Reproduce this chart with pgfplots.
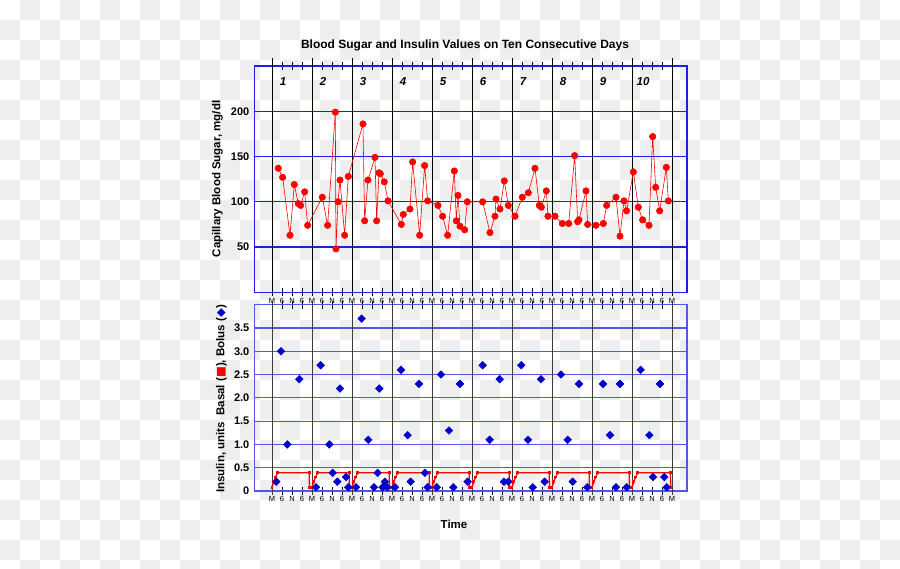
\documentclass[border=0pt]{standalone}
\usepackage{pgfplots}
\pgfplotsset{compat=1.18}
\usepackage{fontspec}
\setmainfont{Liberation Sans}
\newfontfamily\dejavu{DejaVu Sans}
\definecolor{checkgray}{RGB}{238,238,238}
\definecolor{gridblue}{RGB}{30,30,232}
\definecolor{gridblue2}{RGB}{85,85,235}
\definecolor{bolusblue}{RGB}{0,0,205}
\definecolor{sugarred}{RGB}{255,0,0}
\definecolor{daygray}{RGB}{60,60,60}

\pgfplotstableread{
h v
3.8 137
6.4 127
10.8 63
13.4 119
15.8 98
17.2 96
19.6 111
21.4 74
30.2 105
33.4 74
38.0 199
38.4 48
39.6 100
40.8 124
43.6 63
45.8 128
54.6 186
55.6 79
57.6 124
61.8 149
62.8 79
64.2 132
65.0 131
67.4 122
69.6 101
77.6 75
78.8 86
82.8 92
84.4 144
88.6 63
91.6 140
93.4 101
99.6 96
102.4 84
105.4 63
109.4 134
110.6 79
111.6 107
112.8 73
115.6 69
117.2 100
126.4 100
130.8 66
133.8 84
134.4 103
136.8 92
139.4 123
141.8 96
145.8 84
150.2 105
153.8 110
157.8 137
160.4 96
161.6 94
164.6 112
165.6 84
169.8 84
174.2 76
178.0 76
181.6 151
183.4 78
184.2 80
188.4 112
189.4 75
194.4 74
198.8 76
200.8 96
206.4 105
208.8 62
211.2 101
212.8 90
216.8 133
219.8 94
222.4 80
226.2 74
228.4 172
230.2 116
232.6 90
236.6 138
237.8 101
}\sugar

\pgfplotstableread{
h v
2.6 0.2
5.4 3.0
9.2 1.0
16.4 2.4
26.4 0.08
29.2 2.7
34.4 1.0
36.4 0.39
39.2 0.2
40.8 2.2
44.4 0.3
45.8 0.08
50.4 0.08
53.8 3.7
57.8 1.1
61.2 0.08
63.4 0.39
64.4 2.2
66.4 0.08
67.8 0.2
69.2 0.08
73.8 0.08
77.4 2.6
81.4 1.2
83.2 0.2
88.2 2.3
91.8 0.39
93.4 0.08
98.8 0.08
101.4 2.5
106.2 1.3
108.8 0.08
112.8 2.3
117.4 0.2
126.4 2.7
130.6 1.1
136.6 2.4
139.2 0.2
141.8 0.2
149.6 2.7
153.6 1.1
156.4 0.08
161.4 2.4
163.6 0.2
173.4 2.5
177.4 1.1
180.4 0.2
184.2 2.3
189.2 0.08
198.6 2.3
202.8 1.2
206.4 0.08
208.8 2.3
212.8 0.08
221.2 2.6
226.4 1.2
228.6 0.3
232.8 2.3
235.4 0.3
236.8 0.08
}\bolus

\pgfplotstableread{
h v
0 0.08
1.1 0.2
2.2 0.3
3.4 0.39
22.3 0.39
22.5 0.08
24 0.08
25.1 0.2
26.2 0.3
27.4 0.39
46.3 0.39
46.5 0.08
48 0.08
49.1 0.2
50.2 0.3
51.4 0.39
70.3 0.39
70.5 0.08
72 0.08
73.1 0.2
74.2 0.3
75.4 0.39
94.3 0.39
94.5 0.08
96 0.08
97.1 0.2
98.2 0.3
99.4 0.39
118.3 0.39
118.5 0.08
120 0.08
121.1 0.2
122.2 0.3
123.4 0.39
142.3 0.39
142.5 0.08
144 0.08
145.1 0.2
146.2 0.3
147.4 0.39
166.3 0.39
166.5 0.08
168 0.08
169.1 0.2
170.2 0.3
171.4 0.39
190.3 0.39
190.5 0.08
192 0.08
193.1 0.2
194.2 0.3
195.4 0.39
214.3 0.39
214.5 0.08
216 0.08
217.1 0.2
218.2 0.3
219.4 0.39
239.0 0.39
239.3 0.08
}\basal

\pgfplotsset{
  chartbase/.style={
    scale only axis,
    width=432.7pt,
    xmin=-10.6, xmax=249,
    xtick={0,6,...,240},
    xticklabels={M,6,N,6,M,6,N,6,M,6,N,6,M,6,N,6,M,6,N,6,M,6,N,6,M,6,N,6,M,6,N,6,M,6,N,6,M,6,N,6,M},
    xticklabel style={font=\fontsize{7.5}{8}\selectfont, inner sep=1pt, yshift=-0.5pt},
    xtick pos=both,
    ytick pos=left,
    tick align=center,
    major tick length=8pt,
    tick style={black, line width=0.6pt},
    yticklabel style={font=\bfseries\fontsize{11}{12}\selectfont, inner sep=0.8pt},
    ymajorgrids=false,
    xmajorgrids=false,
    clip=false,
  }
}

\begin{document}
\begin{tikzpicture}[x=1pt,y=1pt]
\path[use as bounding box] (0,0) rectangle (900,569);
\begin{scope}
\clip (0,0) rectangle (900,569);
\foreach \i in {0,...,44}{
  \foreach \j in {0,...,28}{
    \pgfmathtruncatemacro{\s}{mod(\i+\j,2)}
    \ifnum\s=1
      \fill[checkgray] ({20*\i},{549-20*\j}) rectangle ++(20,20);
    \fi
  }
}
\end{scope}

% Top panel
\begin{axis}[chartbase,
  at={(254.3pt,276.7pt)}, anchor=south west,
  height=226.3pt,
  ymin=0, ymax=250,
  ytick={50,100,150,200},
  yticklabels={50,100,150,200},
  ytick style={draw=none},
  axis line style={gridblue, line width=1.1pt},
]
\pgfplotsinvokeforeach{50,100,150,200}{
  \draw[gridblue, line width=1.1pt] (axis cs:-10.6,#1) -- (axis cs:249,#1);
}
\pgfplotsinvokeforeach{0,...,10}{
  \draw[black, line width=0.7pt] ([yshift=-4pt]axis cs:{24*#1},0) -- ([yshift=8pt]axis cs:{24*#1},250);
}
\addplot[sugarred, line width=0.6pt, mark=*, mark size=3.2pt,
  mark options={solid, fill=sugarred, draw=sugarred}] table[x=h,y=v] {\sugar};
\pgfplotsinvokeforeach{1,...,10}{
  \node[font=\bfseries\itshape\fontsize{11.5}{13}\selectfont] at (axis cs:{24*(#1-1)+6.6},232.7) {#1};
}
\end{axis}

% Bottom panel
\begin{axis}[chartbase,
  at={(254.3pt,78pt)}, anchor=south west,
  height=186.3pt,
  ymin=0, ymax=4,
  ytick={0,0.5,1,1.5,2,2.5,3,3.5},
  yticklabels={0,0.5,1.0,1.5,2.0,2.5,3.0,3.5},
  ytick style={draw=none},
  axis line style={gridblue2, line width=1.1pt},
]
\pgfplotsinvokeforeach{0.5,1,1.5,2,2.5,3,3.5}{
  \draw[gridblue2, line width=1.1pt] (axis cs:-10.6,#1) -- (axis cs:249,#1);
}
\pgfplotsinvokeforeach{0,...,10}{
  \draw[daygray, line width=0.7pt] ([yshift=-4pt]axis cs:{24*#1},0) -- ([yshift=4pt]axis cs:{24*#1},4);
}
\addplot[red, line width=1.3pt, mark=square*, mark size=0.8pt,
  mark options={solid, fill=red}] table[x=h,y=v] {\basal};
\addplot[only marks, mark=square*, mark size=2.75pt,
  mark options={rotate=45, fill=bolusblue, draw=bolusblue}] table[x=h,y=v] {\bolus};
\end{axis}

% Titles and labels
\node[font=\bfseries\fontsize{12}{14}\selectfont] at (465,523.3) {Blood Sugar and Insulin Values on Ten Consecutive Days};
\node[font=\bfseries\fontsize{11.5}{13}\selectfont, rotate=90] at (217.5,390) {Capillary Blood Sugar, mg/dl};
\node[font=\bfseries\fontsize{11.5}{13}\selectfont, rotate=90] at (221.5,170) {Insulin, units\ \ Basal ({\dejavu\textcolor{red}{■}}), Bolus ({\dejavu\textcolor{bolusblue}{◆}})};
\node[font=\bfseries\fontsize{11.5}{13}\selectfont] at (454,45) {Time};
\end{tikzpicture}
\end{document}
